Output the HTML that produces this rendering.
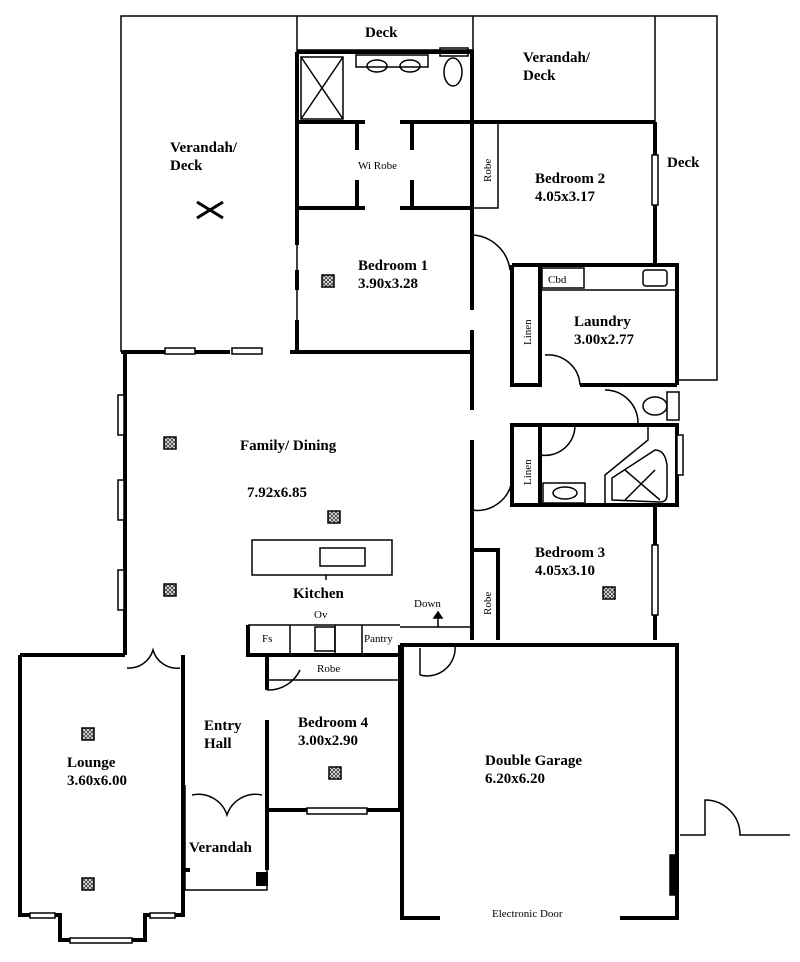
<!DOCTYPE html>
<html><head><style>
html,body{margin:0;padding:0;background:#fff;}
svg{display:block;}
text{font-family:"Liberation Serif",serif;fill:#000;}
.b{font-weight:bold;font-size:15px;}
.s{font-size:11px;}
</style></head><body>
<svg width="800" height="962" viewBox="0 0 800 962" xmlns="http://www.w3.org/2000/svg">
<defs>
<pattern id="hx" width="4" height="4" patternUnits="userSpaceOnUse"><rect width="4" height="4" fill="#fff"/><path d="M0 0L4 4M4 0L0 4" stroke="#444" stroke-width="1"/></pattern>
</defs>
<g fill="none" stroke="#000">
<g stroke-width="1.5">
<path d="M121 352V16H717V380H677"/>
<path d="M297 16V350"/>
<path d="M297 50H473"/>
<path d="M473 122V16"/>
<path d="M655 16V122"/>
<path d="M185 785V890H267V810"/>
<path d="M400 627H472"/>
<path d="M680 835H705V800A35 35 0 0 1 740 835H790"/>
</g>
<g stroke-width="4">
<path d="M297 52H472V122"/>
<path d="M297 52V245M297 270V290M297 320V352"/>
<path d="M297 122H365M400 122H655"/>
<path d="M297 208H365M400 208H472"/>
<path d="M357 122V150M357 180V208M412 122V150M412 180V208"/>
<path d="M472 122V310M472 330V410M472 440V640"/>
<path d="M655 122V265"/>
<path d="M512 265H677V385M512 265V385H540V265"/>
<path d="M540 385V360M580 385H677"/>
<path d="M512 425H540V505H512ZM540 425H677V505H512"/>
<path d="M655 505V640"/>
<path d="M472 550H498V640"/>
<path d="M121 352H165M190 352H230M290 352H472"/>
<path d="M125 352V655"/>
<path d="M20 655H125M20 655V915H60V940H145V915H183V655"/>
<path d="M183 655V870H190"/>
<path d="M248 625V655H400V645"/>
<path d="M267 655V690M267 720V810H400V645"/>
<path d="M400 645H677V918H620M440 918H402V645"/>
<path d="M267 810V870"/>
</g>
<g stroke-width="1.5">
<path d="M248 625H400"/>
<path d="M268 680H400"/>
<path d="M498 122V208H472"/>
<path d="M252 540H392V575H252Z"/>
<path d="M290 625V655M335 625V655M362 625V655"/>
<g fill="#fff">
<rect x="165" y="348" width="30" height="6"/>
<rect x="232" y="348" width="30" height="6"/>
<rect x="118" y="395" width="6" height="40"/>
<rect x="118" y="480" width="6" height="40"/>
<rect x="118" y="570" width="6" height="40"/>
<rect x="652" y="155" width="6" height="50"/>
<rect x="652" y="545" width="6" height="70"/>
<rect x="677" y="435" width="6" height="40"/>
<rect x="307" y="808" width="60" height="6"/>
<rect x="30" y="913" width="25" height="5"/>
<rect x="150" y="913" width="25" height="5"/>
<rect x="70" y="938" width="62" height="5"/>
</g>
<rect x="670" y="855" width="6" height="40" fill="#000"/>
<path d="M472 235A40 40 0 0 1 510 270"/>
<path d="M545 355A32 32 0 0 1 580 385"/>
<path d="M605 390A33 33 0 0 1 638 423"/>
<path d="M540 455A30 30 0 0 0 575 425"/>
<path d="M472 510A35 35 0 0 0 512 480"/>
<path d="M127 668A25 25 0 0 0 153 650A25 25 0 0 0 180 668"/>
<path d="M192 795A30 30 0 0 1 227 815A30 30 0 0 1 262 795"/>
<path d="M267 690A35 35 0 0 0 300 670"/>
<path d="M420 675A28 28 0 0 0 455 645"/>
<path d="M420 648V675"/>
<path d="M438 627V612"/>
<rect x="301" y="57" width="42" height="62"/>
<path d="M301 57L343 119M343 57L301 119"/>
<rect x="356" y="55" width="72" height="12"/>
<ellipse cx="377" cy="66" rx="10" ry="6"/><ellipse cx="410" cy="66" rx="10" ry="6"/>
<rect x="440" y="48" width="28" height="8"/>
<ellipse cx="453" cy="72" rx="9" ry="14"/>
<rect x="542" y="268" width="42" height="20"/>
<path d="M540 290H675"/>
<rect x="643" y="270" width="24" height="16" rx="3"/>
<rect x="667" y="392" width="12" height="28"/>
<ellipse cx="655" cy="406" rx="12" ry="9"/>
<rect x="543" y="483" width="42" height="20"/>
<ellipse cx="565" cy="493" rx="12" ry="6"/>
<path d="M605 505V475L648 440V425"/>
<path d="M612 500L612 478L655 450Q665 450 667 465V495Q667 502 660 502Z"/>
<path d="M625 470L660 500M655 470L625 500"/>
<rect x="320" y="548" width="45" height="18"/>
<rect x="315" y="627" width="20" height="24"/>
<path d="M326 575V580"/>
<path d="M197 202L223 218M223 202L197 218" stroke-width="3"/>
<path d="M438 612L434 618H442Z" fill="#000"/>
</g>
</g>
<rect x="256" y="872" width="12" height="14" fill="#000"/>
<g fill="url(#hx)" stroke="#000" stroke-width="1.5">
<rect x="322" y="275" width="12" height="12"/>
<rect x="164" y="437" width="12" height="12"/>
<rect x="328" y="511" width="12" height="12"/>
<rect x="164" y="584" width="12" height="12"/>
<rect x="603" y="587" width="12" height="12"/>
<rect x="82" y="728" width="12" height="12"/>
<rect x="82" y="878" width="12" height="12"/>
<rect x="329" y="767" width="12" height="12"/>
</g>
<text class="b" x="365" y="37">Deck</text>
<text class="b" x="523" y="62">Verandah/</text>
<text class="b" x="523" y="80">Deck</text>
<text class="b" x="170" y="152">Verandah/</text>
<text class="b" x="170" y="170">Deck</text>
<text class="s" x="358" y="169">Wi Robe</text>
<text class="s" transform="translate(491 182) rotate(-90)">Robe</text>
<text class="b" x="535" y="183">Bedroom 2</text>
<text class="b" x="535" y="201">4.05x3.17</text>
<text class="b" x="667" y="167">Deck</text>
<text class="b" x="358" y="270">Bedroom 1</text>
<text class="b" x="358" y="288">3.90x3.28</text>
<text class="s" x="548" y="283">Cbd</text>
<text class="s" transform="translate(531 345) rotate(-90)">Linen</text>
<text class="b" x="574" y="326">Laundry</text>
<text class="b" x="574" y="344">3.00x2.77</text>
<text class="s" transform="translate(531 485) rotate(-90)">Linen</text>
<text class="b" x="240" y="450">Family/ Dining</text>
<text class="b" x="247" y="497">7.92x6.85</text>
<text class="b" x="535" y="557">Bedroom 3</text>
<text class="b" x="535" y="575">4.05x3.10</text>
<text class="s" transform="translate(491 615) rotate(-90)">Robe</text>
<text class="b" x="293" y="598">Kitchen</text>
<text class="s" x="314" y="618">Ov</text>
<text class="s" x="414" y="607">Down</text>
<text class="s" x="262" y="642">Fs</text>
<text class="s" x="364" y="642">Pantry</text>
<text class="s" x="317" y="672">Robe</text>
<text class="b" x="204" y="730">Entry</text>
<text class="b" x="204" y="748">Hall</text>
<text class="b" x="298" y="727">Bedroom 4</text>
<text class="b" x="298" y="745">3.00x2.90</text>
<text class="b" x="67" y="767">Lounge</text>
<text class="b" x="67" y="785">3.60x6.00</text>
<text class="b" x="189" y="852">Verandah</text>
<text class="b" x="485" y="765">Double Garage</text>
<text class="b" x="485" y="783">6.20x6.20</text>
<text class="s" x="492" y="917">Electronic Door</text>
</svg>
</body></html>
